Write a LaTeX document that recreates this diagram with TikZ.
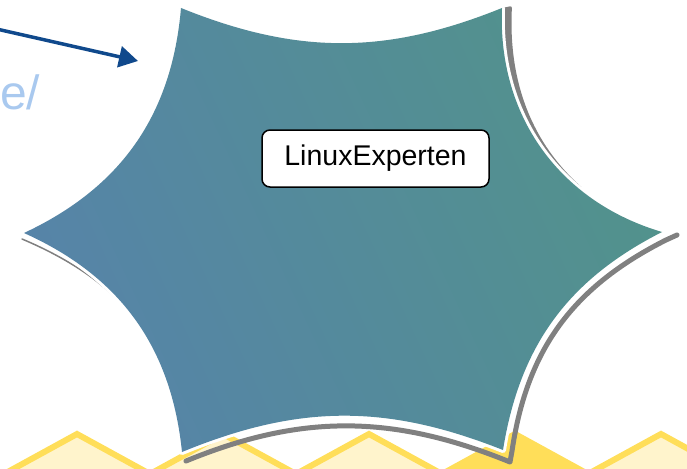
\documentclass[tikz,border=0pt]{standalone}
\usepackage{fontspec}
\setmainfont{Liberation Sans}
\usepackage{tikz}
\usetikzlibrary{arrows.meta,positioning}
\definecolor{starblue}{RGB}{86,132,168}
\definecolor{starteal}{RGB}{82,146,140}
\definecolor{shadowgray}{RGB}{128,128,128}
\definecolor{pointerblue}{RGB}{16,73,140}
\definecolor{linkblue}{RGB}{169,201,239}
\definecolor{zigline}{RGB}{255,222,89}
\definecolor{zigfill}{RGB}{255,244,204}

\begin{document}
\begin{tikzpicture}[x=1pt,y=-1pt,
		zigzag/.style={draw=zigline,fill=zigfill,line width=6pt},
		starshadow/.style={draw=shadowgray,line width=5pt,line cap=round,line join=round},
		starrim/.style={draw=white,line width=6pt,line join=round},
		starfill/.style={left color=starblue,right color=starteal,shading angle=115},
		pointer/.style={draw=pointerblue,line width=3.5pt,-{Triangle[length=19pt,width=21pt]}},
		labelbox/.style={draw,fill=white,rounded corners=8pt,line width=1.5pt,minimum width=227pt,minimum height=57pt,font=\fontsize{28.5}{30}\selectfont}]
		\useasboundingbox (0,0) rectangle (687,468);
		\def\starshape{(181,8) to[bend right=22] (502,8) to[bend right=38] (662,232) to[bend right=27] (503,450) to[bend right=22] (182,452) to[bend right=30] (24,233) to[bend right=30] cycle}
		\foreach \peak in {77,223,369,661}
			\draw[zigzag] (\peak-73,474) -- (\peak,434) -- (\peak+73,474) -- cycle;
		\draw[zigzag,fill=zigline] (442,474) -- (515,434) -- (588,474) -- cycle;
		\fill[shadowgray,rounded corners=2pt] (512,6) .. controls (508,83) and (533,144) .. (582.5,188) .. controls (527.9,148) and (498.7,83.3) .. (502,8) -- cycle;
		\draw[starshadow] (677,235) -- (666,240) .. controls (573,287) and (527,349) .. (512,451) -- (510,462) .. controls (390,413) and (298,415) .. (186,461);
		\draw[starshadow,line width=1.5pt] (22,239) .. controls (60,255) and (100,278) .. (127,310);
		\draw[starrim] \starshape;
		\shade[starfill] \starshape;
		\node[labelbox] (expertbox) at (375.5,158.5) {LinuxExperten};
		\node[anchor=base west,inner sep=0pt,text=linkblue,font=\fontsize{48}{48}\selectfont] (urltail) at (0,110) {e/};
		\coordinate (arrowstart) at (-30,23);
		\coordinate (arrowtip) at (138,61);
		\draw[pointer] (arrowstart) -- (arrowtip);
	\end{tikzpicture}
\end{document}
